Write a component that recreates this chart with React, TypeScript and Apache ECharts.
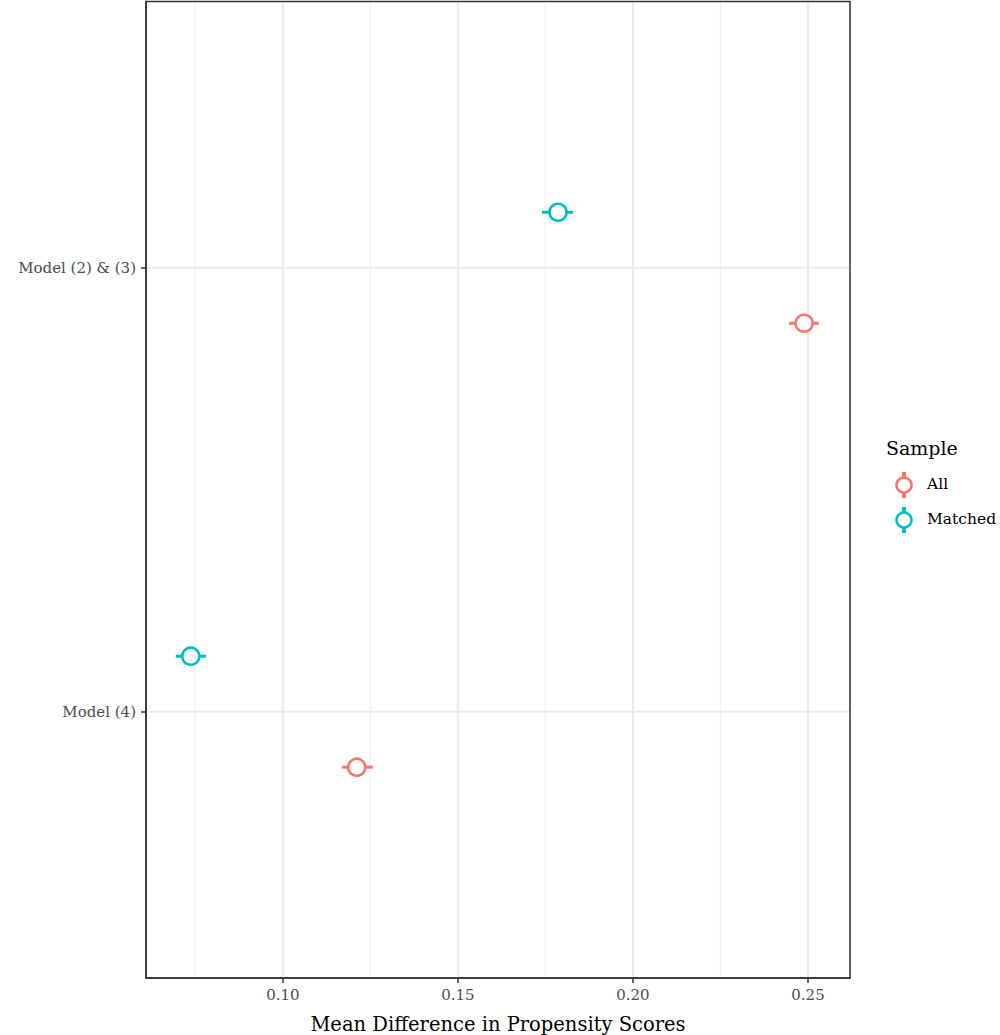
import React, { useEffect, useRef } from "react";
import * as echarts from "echarts";

const categories = ["Model (4)", "Model (2) & (3)"];
const groups = ["All", "Matched"];
const colors = ["#F8766D", "#00BFC4"];
const allMean = [0.1211, 0.2489];
const allLo = [0.1169, 0.2446];
const allHi = [0.1257, 0.2531];
const matchedMean = [0.0737, 0.1786];
const matchedLo = [0.0694, 0.174];
const matchedHi = [0.078, 0.1829];
const xTicks = [0.1, 0.15, 0.2, 0.25];
const xMinorGrid = [0.075, 0.125, 0.175, 0.225];
const dodge = [-0.125, 0.125];

const FONT = "DejaVu Serif";
const X_MIN = 0.0609;
const X_MAX = 0.262;
const Y_MIN = 0.4;
const Y_MAX = 2.6;

export default function App() {
  const ref = useRef<HTMLDivElement>(null);
  useEffect(() => {
    const chart = echarts.init(ref.current!, null, { renderer: "svg" });
    const means = [allMean, matchedMean];
    const los = [allLo, matchedLo];
    const his = [allHi, matchedHi];
    const series: any[] = [];
    // grid lines: [kind, value] kind 0 = vertical minor, 1 = vertical major, 2 = horizontal major
    const gridData: number[][] = [
      ...xMinorGrid.map((v) => [0, v]),
      ...xTicks.map((v) => [1, v]),
      ...categories.map((_, i) => [2, i + 1]),
    ];
    series.push({
      type: "custom",
      silent: true,
      z: 0,
      data: gridData,
      renderItem: (params: any, api: any) => {
        const kind = api.value(0);
        const v = api.value(1);
        let p1, p2;
        if (kind === 2) {
          p1 = api.coord([X_MIN, v]);
          p2 = api.coord([X_MAX, v]);
        } else {
          p1 = api.coord([v, Y_MIN]);
          p2 = api.coord([v, Y_MAX]);
        }
        return {
          type: "line",
          shape: { x1: p1[0], y1: p1[1], x2: p2[0], y2: p2[1] },
          style: { stroke: kind === 0 ? "#F2F2F2" : "#EBEBEB", lineWidth: kind === 0 ? 1.5 : 2 },
        };
      },
    });
    groups.forEach((g, gi) => {
      series.push({
        type: "custom",
        name: g + " range",
        z: 2,
        data: categories.map((_, ci) => [los[gi][ci], his[gi][ci], ci + 1 + dodge[gi]]),
        renderItem: (params: any, api: any) => {
          const p1 = api.coord([api.value(0), api.value(2)]);
          const p2 = api.coord([api.value(1), api.value(2)]);
          return {
            type: "line",
            shape: { x1: p1[0], y1: p1[1], x2: p2[0], y2: p2[1] },
            style: { stroke: colors[gi], lineWidth: 3 },
          };
        },
      });
      series.push({
        type: "scatter",
        name: g,
        z: 3,
        symbol: "circle",
        symbolSize: 17,
        itemStyle: { color: "#FFFFFF", borderColor: colors[gi], borderWidth: 2.6, opacity: 1 },
        data: categories.map((_, ci) => [means[gi][ci], ci + 1 + dodge[gi]]),
      });
    });

    const legendX = 904;
    const legendY = [485, 520];
    const graphic: any[] = [
      {
        type: "text",
        left: 886,
        top: 438,
        style: { text: "Sample", font: `19px "${FONT}"`, fill: "#000000" },
      },
    ];
    groups.forEach((g, gi) => {
      graphic.push({
        type: "line",
        shape: { x1: legendX, y1: legendY[gi] - 13, x2: legendX, y2: legendY[gi] + 13 },
        style: { stroke: colors[gi], lineWidth: 4 },
        z: 10,
      });
      graphic.push({
        type: "circle",
        shape: { cx: legendX, cy: legendY[gi], r: 7.5 },
        style: { fill: "#FFFFFF", stroke: colors[gi], lineWidth: 2.6 },
        z: 11,
      });
      graphic.push({
        type: "text",
        left: 927,
        top: legendY[gi] - 9,
        style: { text: g, font: `15.5px "${FONT}"`, fill: "#000000" },
        z: 11,
      });
    });

    chart.setOption({
      animation: false,
      backgroundColor: "#FFFFFF",
      grid: { left: 146, right: 150, top: 1.5, bottom: 57, show: false, outerBoundsMode: "none", containLabel: false },
      xAxis: {
        type: "value",
        min: X_MIN,
        max: X_MAX,
        name: "Mean Difference in Propensity Scores",
        nameLocation: "middle",
        nameGap: 36,
        nameTextStyle: { fontFamily: FONT, fontSize: 19.5, color: "#000000" },
        axisLine: { show: true, onZero: false, lineStyle: { color: "#333333", width: 1.5 } },
        axisTick: { show: true, customValues: xTicks, length: 5, lineStyle: { color: "#333333", width: 1.5 } },
        axisLabel: {
          customValues: xTicks,
          formatter: (v: number) => v.toFixed(2),
          fontFamily: FONT,
          fontSize: 15,
          color: "#4D4D4D",
          margin: 9,
        },
        splitLine: { show: false },
      },
      yAxis: {
        type: "value",
        min: Y_MIN,
        max: Y_MAX,
        axisLine: { show: true, onZero: false, lineStyle: { color: "#333333", width: 1.5 } },
        axisTick: { show: true, customValues: [1, 2], length: 5, lineStyle: { color: "#333333", width: 1.5 } },
        axisLabel: {
          customValues: [1, 2],
          formatter: (v: number) => categories[Math.round(v) - 1] || "",
          fontFamily: FONT,
          fontSize: 15,
          color: "#4D4D4D",
          margin: 10,
        },
        splitLine: { show: false },
      },
      graphic: [
        ...graphic,
        {
          type: "rect",
          shape: { x: 146, y: 1.5, width: 704, height: 976.5 },
          style: { fill: "none", stroke: "#333333", lineWidth: 1.5 },
          z: 20,
          silent: true,
        },
      ],
      series,
    });
    return () => chart.dispose();
  }, []);
  return <div ref={ref} style={{ width: 1000, height: 1035, position: "absolute", left: 0, top: 0 }} />;
}
